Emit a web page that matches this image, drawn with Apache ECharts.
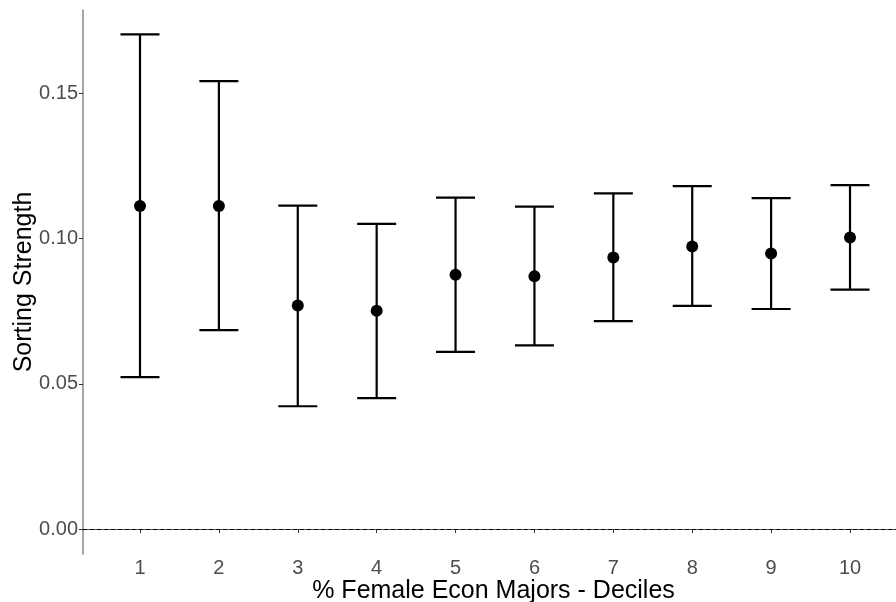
<!DOCTYPE html>
<html>
<head>
<meta charset="utf-8">
<script src="https://cdn.jsdelivr.net/npm/echarts@6/dist/echarts.min.js"></script>
<style>html,body{margin:0;padding:0;background:#fff;}#c{width:896px;height:602px;}</style>
</head>
<body>
<div id="c"></div>
<script>
const deciles = [1, 2, 3, 4, 5, 6, 7, 8, 9, 10];
const means = [0.1113, 0.1113, 0.0770, 0.0752, 0.0876, 0.0871, 0.0935, 0.0973, 0.0949, 0.1004];
const lowers = [0.0523, 0.0685, 0.0423, 0.0451, 0.0610, 0.0633, 0.0716, 0.0769, 0.0758, 0.0825];
const uppers = [0.1704, 0.1543, 0.1114, 0.1051, 0.1142, 0.1111, 0.1156, 0.1181, 0.1140, 0.1185];
const yTicks = [0, 0.05, 0.10, 0.15];

const chart = echarts.init(document.getElementById('c'), null, {renderer: 'canvas'});
const FONT = '"Liberation Sans", Arial, sans-serif';

const errData = deciles.map((d, i) => [d, lowers[i], uppers[i]]);
const ptData = deciles.map((d, i) => [d, means[i]]);

chart.setOption({
  animation: false,
  backgroundColor: '#ffffff',
  grid: {left: 83, right: 0, top: 10, bottom: 48, containLabel: false, outerBoundsMode: 'none'},
  xAxis: {
    type: 'value',
    min: 0.2776, max: 10.583,
    name: '% Female Econ Majors - Deciles',
    nameLocation: 'middle',
    nameGap: 25,
    nameMoveOverlap: false,
    nameTextStyle: {fontFamily: FONT, fontSize: 25, color: '#000', padding: [0, 0, 0, 8]},
    splitLine: {show: false},
    axisLine: {show: true, lineStyle: {color: '#555', width: 1.2}},
    axisTick: {show: true, length: 4, inside: false, customValues: deciles, lineStyle: {color: '#333'}},
    axisLabel: {customValues: deciles, fontFamily: FONT, fontSize: 20, color: '#4d4d4d', margin: 4}
  },
  yAxis: {
    type: 'value',
    min: -0.0086, max: 0.1788,
    name: 'Sorting Strength',
    nameLocation: 'middle',
    nameGap: 46,
    nameMoveOverlap: false,
    nameTextStyle: {fontFamily: FONT, fontSize: 25, color: '#000'},
    splitLine: {show: false},
    axisLine: {show: true, onZero: false, lineStyle: {color: '#888', width: 1.5}},
    axisTick: {show: true, length: 4, inside: false, customValues: yTicks, lineStyle: {color: '#333'}},
    axisLabel: {customValues: yTicks, formatter: v => v.toFixed(2), fontFamily: FONT, fontSize: 20, color: '#4d4d4d', margin: 5}
  },
  series: [
    {
      type: 'custom',
      data: errData,
      renderItem: function (params, api) {
        const x = api.value(0);
        const lo = api.coord([x, api.value(1)]);
        const hi = api.coord([x, api.value(2)]);
        const hw = 19.5;
        const style = {stroke: '#000', lineWidth: 2.2, fill: null};
        return {
          type: 'group',
          children: [
            {type: 'line', shape: {x1: lo[0], y1: lo[1], x2: hi[0], y2: hi[1]}, style: style},
            {type: 'line', shape: {x1: hi[0] - hw, y1: hi[1], x2: hi[0] + hw, y2: hi[1]}, style: style},
            {type: 'line', shape: {x1: lo[0] - hw, y1: lo[1], x2: lo[0] + hw, y2: lo[1]}, style: style}
          ]
        };
      },
      markLine: {
        silent: true,
        symbol: 'none',
        label: {show: false},
        lineStyle: {color: '#000', type: [4, 3], width: 1},
        data: [{yAxis: 0}]
      },
      z: 2
    },
    {
      type: 'scatter',
      data: ptData,
      symbol: 'circle',
      symbolSize: 12,
      itemStyle: {color: '#000', opacity: 1},
      z: 3
    }
  ]
});
</script>
</body>
</html>
